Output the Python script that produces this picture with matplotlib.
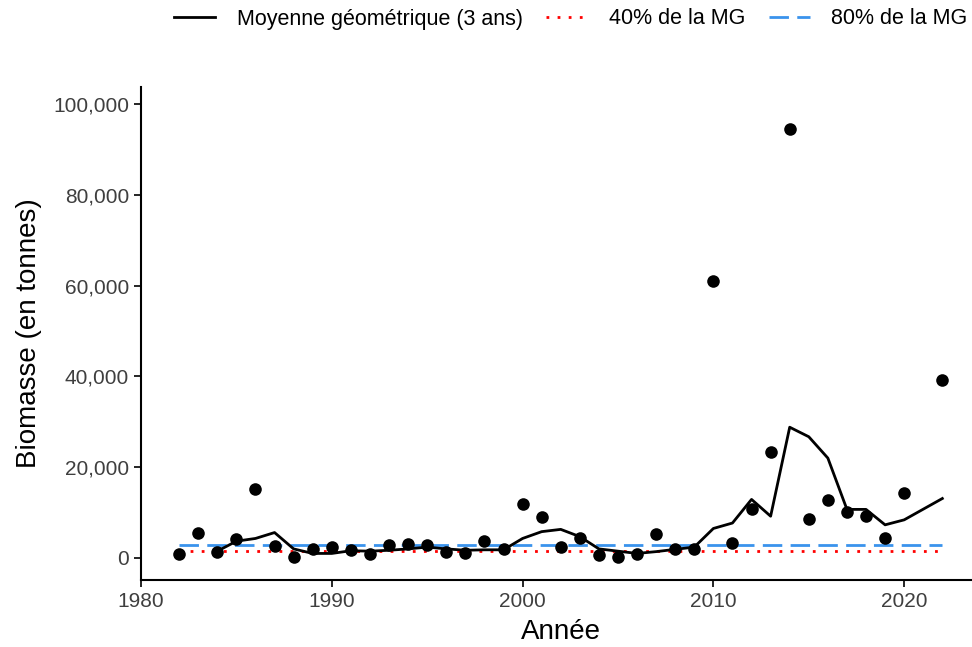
import matplotlib
matplotlib.use("Agg")
import matplotlib.pyplot as plt
from matplotlib.ticker import FuncFormatter
import numpy as np

plt.rcParams['font.family'] = ['Liberation Sans', 'DejaVu Sans']

years = [1982, 1983, 1984, 1985, 1986, 1987, 1988, 1989, 1990, 1991,
         1992, 1993, 1994, 1995, 1996, 1997, 1998, 1999, 2000, 2001,
         2002, 2003, 2004, 2005, 2006, 2007, 2008, 2009, 2010, 2011,
         2012, 2013, 2014, 2015, 2016, 2017, 2018, 2019, 2020, 2022]
biomass = [900, 5400, 1400, 4200, 15200, 2600, 300, 1900, 2400, 1800,
           800, 2900, 3100, 2900, 1400, 1200, 3700, 1900, 11900, 9000,
           2500, 4300, 700, 150, 900, 5200, 1900, 1900, 61000, 3400,
           10800, 23300, 94500, 8600, 12800, 10200, 9300, 4300, 14400, 39200]

gm_years = [1984, 1985, 1986, 1987, 1988, 1989, 1990, 1991, 1992, 1993,
            1994, 1995, 1996, 1997, 1998, 1999, 2000, 2001, 2002, 2003,
            2004, 2005, 2006, 2007, 2008, 2009, 2010, 2011, 2012, 2013,
            2014, 2015, 2016, 2017, 2018, 2019, 2020, 2022]
gm_values = [1500, 3700, 4300, 5600, 2000, 1000, 1000, 1600, 1500, 1700,
             2000, 2400, 2000, 1700, 1800, 1800, 4300, 5800, 6300, 4700,
             2000, 1500, 1000, 1400, 1900, 2400, 6500, 7700, 12900, 9200,
             28800, 26700, 22000, 10700, 10700, 7300, 8400, 13100]

mg_40 = 1450
mg_80 = 2900
ref_span = [1982, 2022]

legend_labels = ["Moyenne géométrique (3 ans)", "40% de la MG", "80% de la MG"]

fig = plt.figure(figsize=(9.72, 6.47), dpi=100)
ax = fig.add_axes([141/972, 67/647, (980.5-141)/972, (580-86.7)/647])

l1, = ax.plot(gm_years, gm_values, color='black', lw=2.0, label=legend_labels[0], zorder=3)
l2, = ax.plot(ref_span, [mg_40, mg_40], color='red', lw=2.0, linestyle=(0, (1, 3)),
              label=legend_labels[1], zorder=2)
l3, = ax.plot(ref_span, [mg_80, mg_80], color='#3A93EC', lw=2.0, linestyle=(0, (7, 3)),
              label=legend_labels[2], zorder=2)
ax.scatter(years, biomass, s=82, color='black', zorder=4, linewidths=0)

ax.set_xlim(1980, 2024)
ax.set_ylim(-4850, 103800)
ax.set_xticks([1980, 1990, 2000, 2010, 2020])
ax.set_yticks([0, 20000, 40000, 60000, 80000, 100000])
ax.yaxis.set_major_formatter(FuncFormatter(lambda v, p: f"{int(v):,}"))

for s in ['top', 'right']:
    ax.spines[s].set_visible(False)
for s in ['left', 'bottom']:
    ax.spines[s].set_linewidth(1.5)
ax.tick_params(axis='both', labelsize=15, length=5, width=1.2,
               colors='black', labelcolor='#3F3F3F')

ax.set_xlabel("Année", fontsize=20, labelpad=6)
ax.set_ylabel("Biomasse (en tonnes)", fontsize=20, labelpad=8)

fig.legend(handles=[l1, l2, l3], labels=legend_labels, loc='center',
           bbox_to_anchor=(571/972, 1 - 19/647), ncol=3, frameon=False,
           fontsize=15.5, handlelength=1.9, columnspacing=1.1, handletextpad=1.0)

fig.savefig("out.png", dpi=100)
